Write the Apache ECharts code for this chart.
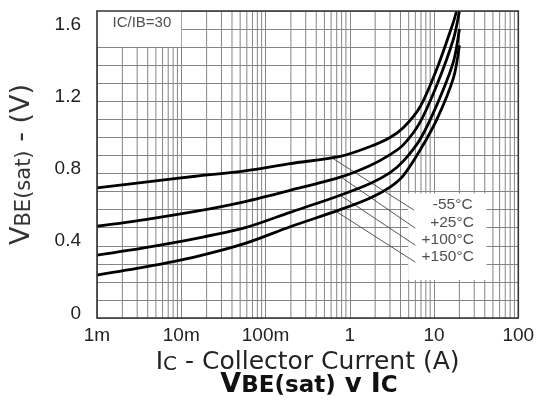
<!DOCTYPE html>
<html>
<head>
<meta charset="utf-8">
<script src="https://cdn.jsdelivr.net/npm/echarts@6/dist/echarts.min.js"></script>
<style>
html,body{margin:0;padding:0;background:#fff;}
#chart{width:545px;height:405px;}
</style>
</head>
<body>
<div id="chart"></div>
<script>
// ---- data ----
const currents = [0.001, 0.00374, 0.0147, 0.0574, 0.196, 0.769, 1.75, 3.01, 4.34, 6.84, 10.8, 17.0];
const endCurrents = [18.5, 20, 20, 20];
const seriesNames = ['-55°C', '+25°C', '+100°C', '+150°C'];
const vbeM55  = [0.72, 0.753, 0.785, 0.815, 0.855, 0.895, 0.95, 1.0, 1.055, 1.17, 1.38, 1.64, 1.70];
const vbeP25  = [0.508, 0.545, 0.59, 0.645, 0.707, 0.78, 0.845, 0.905, 0.96, 1.085, 1.29, 1.545, 1.70];
const vbeP100 = [0.348, 0.39, 0.44, 0.50, 0.585, 0.68, 0.745, 0.805, 0.87, 0.99, 1.18, 1.42, 1.60];
const vbeP150 = [0.238, 0.283, 0.339, 0.413, 0.505, 0.60, 0.665, 0.725, 0.79, 0.93, 1.10, 1.33, 1.51];
const leaderFromI = [0.613, 0.80, 0.77, 0.69];
const leaderFromV = [0.887, 0.778, 0.68, 0.59];
const leaderToI = [5.8, 6.0, 6.0, 6.0];
const leaderToV = [0.597, 0.497, 0.403, 0.309];
const xTickLabels = {'0.001': '1m', '0.01': '10m', '0.1': '100m', '1': '1', '10': '10', '100': '100'};
const yTickLabels = ['0', '0.4', '0.8', '1.2', '1.6'];
const ratioBox = [[0.001, 1.5], [0.01, 1.7]];
const legendBox = [[4.93, 0.21], [42, 0.69]];
const ratioText = 'IC/IB=30';

// minor log gridlines (2..9 in each decade)
const minorX = [];
[0.001, 0.01, 0.1, 1, 10].forEach(d => { for (let k = 2; k <= 9; k++) minorX.push(+(d * k).toPrecision(3)); });

const curves = [vbeM55, vbeP25, vbeP100, vbeP150];
const FONT = "'Liberation Sans', Arial, sans-serif";
const WIDE = "'DejaVu Sans', sans-serif";

const chart = echarts.init(document.getElementById('chart'));

const curveSeries = curves.map((vals, i) => ({
  name: seriesNames[i],
  type: 'line',
  z: 5,
  smooth: 0.3,
  showSymbol: false,
  clip: true,
  animation: false,
  lineStyle: {color: '#000', width: 2.8},
  data: vals.map((v, j) => [j < currents.length ? currents[j] : endCurrents[i], v])
}));

const leaderSeries = seriesNames.map((n, i) => ({
  type: 'line',
  z: 4,
  showSymbol: false,
  animation: false,
  lineStyle: {color: '#444', width: 0.9},
  data: [[leaderFromI[i], leaderFromV[i]], [leaderToI[i], leaderToV[i]]]
}));

const labelSeries = {
  type: 'scatter',
  z: 6,
  symbolSize: 1,
  itemStyle: {color: 'rgba(0,0,0,0)'},
  animation: false,
  data: seriesNames.map((n, i) => ({name: n, value: [leaderToI[i], leaderToV[i]]})),
  label: {
    show: true, formatter: p => p.name, position: [59, -5],
    align: 'right', verticalAlign: 'middle',
    fontFamily: FONT, fontSize: 15.5, color: '#222'
  }
};

const minorGridSeries = {
  type: 'custom',
  z: 1,
  silent: true,
  animation: false,
  data: minorX,
  renderItem: (params, api) => {
    const v = api.value(0);
    const p1 = api.coord([v, 0]);
    const p2 = api.coord([v, 1.7]);
    return {type: 'line', shape: {x1: p1[0], y1: p1[1], x2: p2[0], y2: p2[1]},
      style: {stroke: '#858585', lineWidth: 1}};
  },
  encode: {x: 0}
};

const boxSeries = {
  type: 'custom',
  z: 3,
  silent: true,
  animation: false,
  data: [ratioBox, legendBox].map(b => [b[0][0], b[0][1], b[1][0], b[1][1]]),
  renderItem: (params, api) => {
    const a = api.coord([api.value(0), api.value(1)]);
    const b = api.coord([api.value(2), api.value(3)]);
    return {type: 'rect', shape: {x: a[0], y: b[1], width: b[0] - a[0], height: a[1] - b[1]},
      style: {fill: '#fff'}};
  },
  encode: {x: [0, 2], y: [1, 3]}
};

const ratioLabelSeries = {
  type: 'scatter',
  z: 6,
  symbolSize: 1,
  itemStyle: {color: 'rgba(0,0,0,0)'},
  animation: false,
  data: [{name: ratioText, value: [ratioBox[0][0], ratioBox[1][1]]}],
  label: {show: true, formatter: p => p.name, position: [16, 12], align: 'left', verticalAlign: 'middle',
    fontFamily: FONT, fontSize: 15, color: '#222'}
};

chart.setOption({
  animation: false,
  backgroundColor: '#fff',
  grid: {left: 96.7, right: 26.7, top: 11, bottom: 87, show: true, z: 8,
    borderColor: '#333', borderWidth: 1.6, backgroundColor: 'transparent'},
  xAxis: {
    type: 'log', logBase: 10, min: 0.001, max: 100,
    axisLine: {show: false}, axisTick: {show: false},
    splitLine: {show: true, lineStyle: {color: '#858585', width: 1}},
    axisLabel: {
      margin: 8, fontFamily: FONT, fontSize: 19, color: '#222',
      formatter: v => xTickLabels[String(+v.toPrecision(3))] || ''
    },
    name: '{big|I}{sub|C}{big| - Collector Current (A)}',
    nameLocation: 'middle', nameGap: 20,
    nameTextStyle: {rich: {
      big: {fontFamily: WIDE, fontSize: 25, color: '#222', verticalAlign: 'bottom'},
      sub: {fontFamily: WIDE, fontSize: 20, color: '#222', verticalAlign: 'bottom'}
    }}
  },
  yAxis: {
    type: 'value', min: 0, max: 1.7, interval: 0.1,
    axisLine: {show: false}, axisTick: {show: false},
    splitLine: {show: true, lineStyle: {color: '#858585', width: 1}},
    axisLabel: {
      margin: 16, fontFamily: FONT, fontSize: 19, color: '#222',
      verticalAlign: 'bottom', lineHeight: 9,
      formatter: v => { const s = String(+v.toFixed(1)); return yTickLabels.indexOf(s) >= 0 ? s : ''; }
    },
    name: '{big|V}{sub|BE(sat)}{big| - (V)}',
    nameLocation: 'middle', nameGap: 62, nameRotate: 90,
    nameTextStyle: {rich: {
      big: {fontFamily: WIDE, fontSize: 27, color: '#333', verticalAlign: 'bottom'},
      sub: {fontFamily: WIDE, fontSize: 21, color: '#333', verticalAlign: 'bottom'}
    }}
  },
  graphic: [{
    type: 'text', z: 10,
    style: {
      x: 309, y: 398, align: 'center', verticalAlign: 'bottom',
      text: '{v|V}{s|BE(sat)}{m| v }{v|I}{s|C}',
      rich: {
        v: {fontFamily: WIDE, fontSize: 27, fontWeight: 'bold', fill: '#111', verticalAlign: 'bottom'},
        s: {fontFamily: WIDE, fontSize: 23, fontWeight: 'bold', fill: '#111', verticalAlign: 'bottom'},
        m: {fontFamily: WIDE, fontSize: 26, fontWeight: 'bold', fill: '#111', verticalAlign: 'bottom'}
      }
    }
  }],
  series: [minorGridSeries, boxSeries, ...leaderSeries, ...curveSeries, labelSeries, ratioLabelSeries]
});
</script>
</body>
</html>
